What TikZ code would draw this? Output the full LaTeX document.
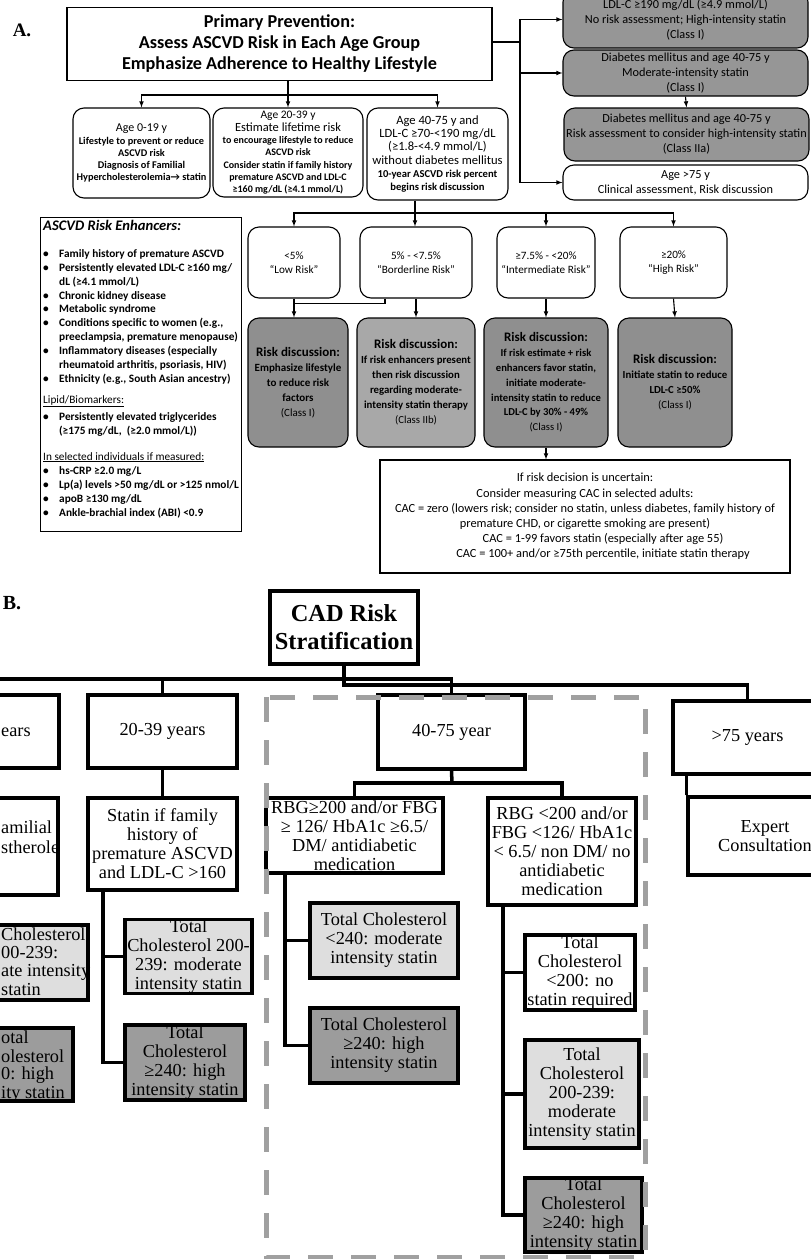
\documentclass[tikz,border=0pt]{standalone}
\usepackage{fontspec}
\setmainfont{Carlito}
\newfontfamily\serifB{Liberation Serif}
\usepackage{tikz}
\usetikzlibrary{arrows}

\definecolor{boxgray}{RGB}{150,150,150}
\definecolor{discgray}{RGB}{143,143,143}
\definecolor{discpale}{RGB}{168,168,168}
\definecolor{tclight}{RGB}{222,222,222}
\definecolor{tcdark}{RGB}{156,156,156}
\definecolor{dashgray}{RGB}{160,160,160}

\newcommand{\fs}[2]{\fontsize{#1}{#2}\selectfont}
\newcommand{\enhbul}{\makebox[16pt][l]{\textbullet}}
\newcommand{\enhind}{\hspace*{16pt}}

\begin{document}
\begin{tikzpicture}[x=1pt,y=-1pt]
\tikzstyle{sbox}=[draw, line width=1.1pt, align=center, inner sep=0pt]
\tikzstyle{rbox}=[sbox, rounded corners=11pt]
\tikzstyle{conn}=[line width=1.1pt]
\tikzstyle{arr}=[conn, -latex]
\tikzstyle{bbox}=[draw, line width=3.5pt, inner sep=0pt, align=center, font=\serifB\fs{18.3}{19}]
\tikzstyle{bline}=[line width=3.5pt]
\tikzstyle{frag}=[inner sep=0pt, anchor=west, font=\serifB\fs{18.3}{19}]

\useasboundingbox (0,0) rectangle (811,1259);
\clip (0,0) rectangle (811,1259);

% ---------------- A ----------------
\node[font=\serifB\bfseries\fs{19}{22}] (labA) at (22,30) {A.};
\node[sbox, minimum width=425pt, minimum height=73pt, font=\bfseries\fs{18.2}{21}] (title) at (279.5,44)
  {Primary Prevention:\\Assess ASCVD Risk in Each Age Group\\Emphasize Adherence to Healthy Lifestyle};

\node[rbox, fill=boxgray, minimum width=245pt, minimum height=57pt, font=\fs{12.3}{15}] (r1) at (685.5,19.5)
  {LDL-C ≥190 mg/dL (≥4.9 mmol/L)\\No risk assessment; High-intensity statin\\(Class I)};
\node[rbox, fill=boxgray, minimum width=245pt, minimum height=46pt, font=\fs{12.3}{15}] (r2) at (685.5,73)
  {Diabetes mellitus and age 40-75 y\\Moderate-intensity statin\\(Class I)};
\node[rbox, fill=boxgray, minimum width=245pt, minimum height=53pt, font=\fs{12.3}{15}] (r3) at (686.5,134.5)
  {Diabetes mellitus and age 40-75 y\\Risk assessment to consider high-intensity statin\\(Class IIa)};
\node[rbox, fill=white, minimum width=245pt, minimum height=35pt, font=\fs{12.3}{15}] (r4) at (685.5,182.5)
  {Age >75 y\\Clinical assessment, Risk discussion};

\node[rbox, minimum width=137pt, minimum height=90pt, font=\bfseries\fs{10.3}{12.2}] (age1) at (141.5,153)
  {{\mdseries\fs{12}{12}Age 0-19 y}\\[1pt]Lifestyle to prevent or reduce\\ASCVD risk\\Diagnosis of Familial\\Hypercholesterolemia→ statin};
\node[rbox, minimum width=150pt, minimum height=89pt, font=\bfseries\fs{10}{12.2}] (age2) at (288,152.5)
  {{\mdseries\fs{11.5}{12}Age 20-39 y}\\[1pt]{\mdseries\fs{12.5}{12}Estimate lifetime risk}\\to encourage lifestyle to reduce\\ASCVD risk\\Consider statin if family history\\premature ASCVD and LDL-C\\≥160 mg/dL (≥4.1 mmol/L)};
\node[rbox, minimum width=141pt, minimum height=92pt, font=\fs{12.6}{13.2}] (age3) at (437.5,154)
  {Age 40-75 y and\\LDL-C ≥70-<190 mg/dL\\(≥1.8-<4.9 mmol/L)\\without diabetes mellitus\\{\bfseries\fs{10.6}{12}10-year ASCVD risk percent}\\{\bfseries\fs{10.6}{12}begins risk discussion}};

\node[rbox, minimum width=92pt, minimum height=71pt, font=\fs{11.2}{14}] (low) at (294,262.5) {<5\%\\“Low Risk”};
\node[rbox, minimum width=112pt, minimum height=71pt, font=\fs{11.2}{14}] (bord) at (416,262.5) {5\% - <7.5\%\\“Borderline Risk”};
\node[rbox, minimum width=98pt, minimum height=71pt, font=\fs{11.2}{14}] (inter) at (546,262.5) {≥7.5\% - <20\%\\“Intermediate Risk”};
\node[rbox, minimum width=107pt, minimum height=71pt, font=\fs{11.2}{14}] (high) at (673.5,262.5) {≥20\%\\“High Risk”};

\node[rbox, fill=discgray, minimum width=100pt, minimum height=129pt, font=\bfseries\fs{11}{15}] (d1) at (298,382.5)
  {{\fs{13}{15}Risk discussion:}\\Emphasize lifestyle\\to reduce risk\\factors\\{\mdseries (Class I)}};
\node[rbox, fill=discpale, minimum width=118pt, minimum height=129pt, font=\bfseries\fs{10.8}{15}] (d2) at (416,382.5)
  {{\fs{13}{15}Risk discussion:}\\If risk enhancers present\\then risk discussion\\regarding moderate-\\intensity statin therapy\\{\mdseries (Class IIb)}};
\node[rbox, fill=discgray, minimum width=124pt, minimum height=129pt, font=\bfseries\fs{10.6}{14.8}] (d3) at (546,382.5)
  {{\fs{13}{15}Risk discussion:}\\If risk estimate + risk\\enhancers favor statin,\\initiate moderate-\\intensity statin to reduce\\LDL-C by 30\% - 49\%\\{\mdseries (Class I)}};
\node[rbox, fill=discgray, minimum width=114pt, minimum height=129pt, font=\bfseries\fs{10.8}{15}] (d4) at (675,382.5)
  {{\fs{13}{15}Risk discussion:}\\Initiate statin to reduce\\LDL-C ≥50\%\\{\mdseries (Class I)}};

\node[sbox, minimum width=410pt, minimum height=113pt, font=\fs{12.4}{15.2}] (cac) at (585,516.5)
  {If risk decision is uncertain:\\Consider measuring CAC in selected adults:\\CAC = zero (lowers risk; consider no statin, unless diabetes, family history of\\premature CHD, or cigarette smoking are present)\\\hspace*{36pt}CAC = 1-99 favors statin (especially after age 55)\\\hspace*{36pt}CAC = 100+ and/or ≥75th percentile, initiate statin therapy};

\node[draw, line width=1.1pt, minimum width=201pt, minimum height=314pt, anchor=north west] (enh) at (40,217) {};
\node[anchor=north west, inner sep=0pt, align=left, font=\bfseries\fs{11.3}{13.9}] (enhtxt) at (43,220)
  {{\itshape\fs{14.6}{15}ASCVD Risk Enhancers:}\\[13pt]
   \enhbul Family history of premature ASCVD\\
   \enhbul Persistently elevated LDL-C ≥160 mg/\\
   \enhind dL (≥4.1 mmol/L)\\
   \enhbul Chronic kidney disease\\
   \enhbul Metabolic syndrome\\
   \enhbul Conditions specific to women (e.g.,\\
   \enhind preeclampsia, premature menopause)\\
   \enhbul Inflammatory diseases (especially\\
   \enhind rheumatoid arthritis, psoriasis, HIV)\\
   \enhbul Ethnicity (e.g., South Asian ancestry)\\[7pt]
   {\mdseries\underline{Lipid/Biomarkers:}}\\[3pt]
   \enhbul Persistently elevated triglycerides\\
   \enhind (≥175 mg/dL,\ \ (≥2.0 mmol/L))\\[12pt]
   {\mdseries\underline{In selected individuals if measured:}}\\[1pt]
   \enhbul hs-CRP ≥2.0 mg/L\\
   \enhbul Lp(a) levels >50 mg/dL or >125 nmol/L\\
   \enhbul apoB ≥130 mg/dL\\
   \enhbul Ankle-brachial index (ABI) <0.9};

% connectors A
\coordinate (rt) at (520,42);
\draw[conn] (title.east |- rt) -- (rt);
\draw[arr] (rt) |- (r1.west);
\draw[arr] (rt) |- (r2.west);
\draw[arr] (rt) |- (r4.west);
\draw[arr] (r2.south) -- (r3.north);

\coordinate (ag) at (288,95);
\draw[conn] (title.south -| ag) -- (ag);
\draw[arr] (ag) -| (age1.north);
\draw[arr] (ag) -- (age2.north);
\draw[arr] (ag) -| (age3.north);

\coordinate (rk) at (415,213);
\draw[conn] (rk |- age3.south) -- (rk);
\draw[arr] (rk) -| (low.north);
\draw[arr] (rk) -- (bord.north -| rk);
\draw[arr] (rk) -| (inter.north);
\draw[arr] (rk) -| (high.north);

\draw[arr] (low.south) -- (low.south |- d1.north);
\draw[conn] ([xshift=-31pt]bord.south) -- ++(0,5) -| (low.south);
\draw[arr] (bord.south) -- (d2.north);
\draw[arr] (inter.south) -- (d3.north);
\draw[arr] (high.south) -- (d4.north);
\draw[arr] (d3.south) -- (d3.south |- cac.north);

% ---------------- B ----------------
\node[font=\serifB\bfseries\fs{20}{22}] (labB) at (12,603) {B.};
\node[bbox, minimum width=148pt, minimum height=73pt, font=\serifB\bfseries\fs{24.4}{28}] (cad) at (344,627.5)
  {CAD Risk\\Stratification};

\node[bbox, minimum width=149pt, minimum height=73pt] (a019) at (-15.5,731.5) {};
\node[bbox, minimum width=149pt, minimum height=73pt] (a2039) at (162.5,731.5) {20-39 years};
\node[bbox, minimum width=147pt, minimum height=74pt] (a4075) at (451.5,732) {40-75 year};
\node[bbox, minimum width=149pt, minimum height=73pt] (o75) at (747.5,737.5) {>75 years};

\node[bbox, minimum width=148pt, minimum height=97pt] (d019) at (-16,846.5) {};
\node[bbox, minimum width=149pt, minimum height=92pt] (s2039) at (162.5,844)
  {Statin if family\\history of\\premature ASCVD\\and LDL-C >160};
\node[bbox, fill=tclight, minimum width=127pt, minimum height=75pt] (l019) at (24.5,962.5) {};
\node[bbox, fill=tcdark, minimum width=120pt, minimum height=73pt] (h019) at (13,1064.5) {};
\node[bbox, fill=tclight, minimum width=127pt, minimum height=73pt] (l2039) at (188.5,956.5)
  {Total\\Cholesterol 200-\\239: moderate\\intensity statin};
\node[bbox, fill=tcdark, minimum width=120pt, minimum height=75pt] (h2039) at (185,1062.5)
  {Total\\Cholesterol\\≥240: high\\intensity statin};

\node[bbox, minimum width=177pt, minimum height=75pt] (rbgh) at (354.5,835.5)
  {RBG≥200 and/or FBG\\≥ 126/ HbA1c ≥6.5/\\DM/ antidiabetic\\medication};
\node[bbox, minimum width=148pt, minimum height=107pt] (rbgl) at (562,851.5)
  {RBG <200 and/or\\FBG <126/ HbA1c\\< 6.5/ non DM/ no\\antidiabetic\\medication};
\node[bbox, fill=tclight, minimum width=148pt, minimum height=75pt] (m4075) at (384,940.5)
  {Total Cholesterol\\<240: moderate\\intensity statin};
\node[bbox, fill=tcdark, minimum width=148pt, minimum height=75pt] (h4075) at (384,1045.5)
  {Total Cholesterol\\≥240: high\\intensity statin};
\node[bbox, minimum width=110pt, minimum height=75pt] (n200) at (580,972.5)
  {Total\\Cholesterol\\<200: no\\statin required};
\node[bbox, fill=tclight, minimum width=114pt, minimum height=108pt] (m200) at (582,1094)
  {Total\\Cholesterol\\200-239:\\moderate\\intensity statin};
\node[bbox, fill=tcdark, minimum width=117pt, minimum height=74pt] (h200) at (583.5,1215)
  {Total\\Cholesterol\\≥240: high\\intensity statin};
\node[bbox, minimum width=154pt, minimum height=78pt] (expert) at (765,836) {Expert\\Consultation};

% texts of the boxes cut by the left edge
\node[frag] (t019) at (1,732) {ears};
\node[frag] (t1) at (1,827) {amilial};
\node[frag] (t2) at (1,847) {stherole};
\node[frag] (t3) at (1,934) {Cholesterol};
\node[frag] (t4) at (1,953) {00-239:};
\node[frag] (t5) at (1,972) {ate intensity};
\node[frag] (t6) at (1,990) {statin};
\node[frag] (t7) at (1,1037) {otal};
\node[frag] (t8) at (1,1056) {olesterol};
\node[frag] (t9) at (1,1075) {0: high};
\node[frag] (t10) at (1,1094) {ity statin};

% connectors B
\coordinate (lft) at (-5,679);
\coordinate (c2) at (344,685);
\draw[bline] (lft) -| (a4075.north);
\draw[bline] (a2039.north) -- (a2039.north |- lft);
\draw[bline] (cad.south) -- (c2) -| (o75.north);
\draw[bline] (a2039.south) -- (s2039.north);

\coordinate (v2039) at (103,0);
\draw[bline] (v2039 |- s2039.south) |- (h2039.west);
\draw[bline] (v2039 |- l2039.west) -- (l2039.west);

\coordinate (j4075) at (452,783);
\draw[bline] (a4075.south) -- (j4075);
\draw[bline] (rbgh.north) -- (rbgh.north |- j4075) -- (rbgl.north |- j4075) -- (rbgl.north);

\coordinate (v4075) at (285,0);
\draw[bline] (v4075 |- rbgh.south) |- (h4075.west);
\draw[bline] (v4075 |- m4075.west) -- (m4075.west);

\coordinate (vlow) at (503,0);
\draw[bline] (vlow |- rbgl.south) |- (h200.west);
\draw[bline] (vlow |- n200.west) -- (n200.west);
\draw[bline] (vlow |- m200.west) -- (m200.west);

\draw[bline] (expert.north west) -- (expert.north west |- o75.south);

\draw[draw=dashgray, line width=5pt, dash pattern=on 25pt off 18pt] (266,697) rectangle (645,1257);
\end{tikzpicture}
\end{document}
